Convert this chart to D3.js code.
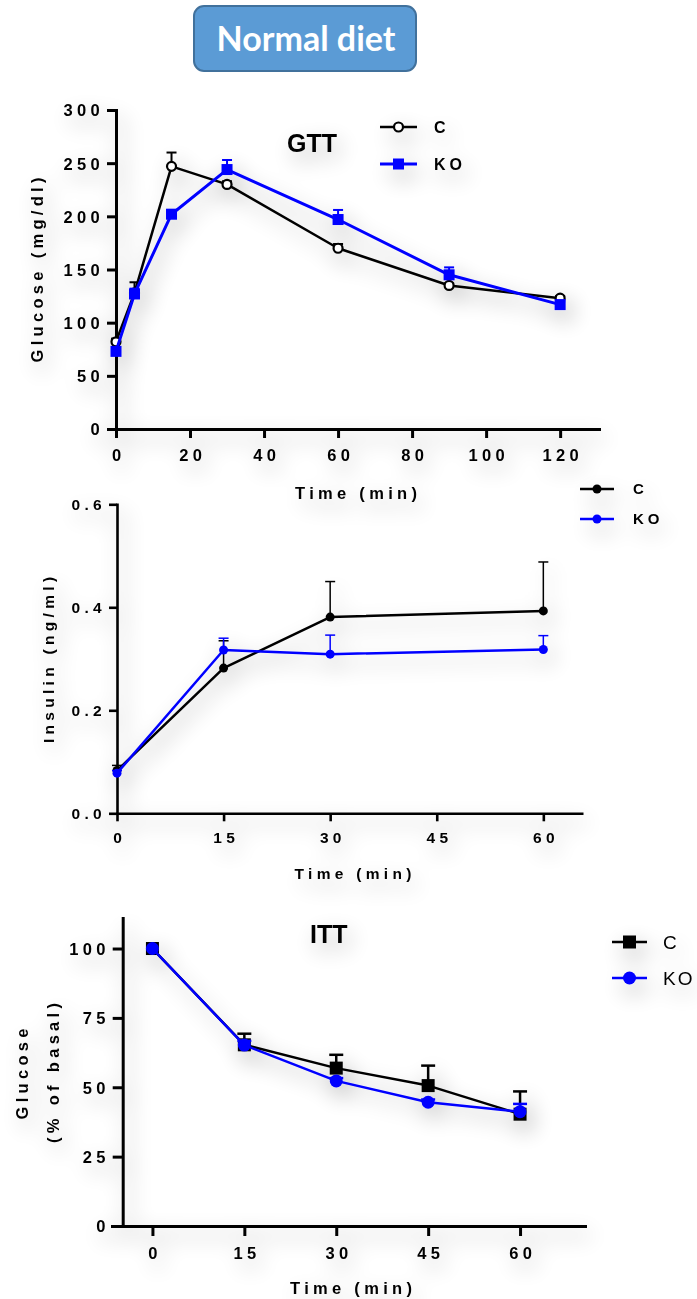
<!DOCTYPE html>
<html>
<head>
<meta charset="utf-8">
<script src="https://cdn.jsdelivr.net/npm/d3@7"></script>
<style>
  body { margin: 0; background: #fff; }
  svg { display: block; }
  .tick text, .lbl { font-family: "Liberation Sans", Arial, sans-serif; font-weight: bold; }
</style>
</head>
<body>
<svg width="697" height="1299"></svg>
<script>
// GTT - glucose (mg/dl)
const gttTimes = [0, 5, 15, 30, 60, 90, 120];
const gttC = [82, 128, 247, 230, 170, 135, 123];
const gttCErr = [3, 10, 13, 3, 4, 2, 2];
const gttKO = [73, 127, 202, 244, 197, 145, 117];
const gttKOErr = [3, 5, 4, 9, 9, 7, 3];
const gttXTicks = [0, 20, 40, 60, 80, 100, 120];
const gttYTicks = [0, 50, 100, 150, 200, 250, 300];

// insulin (ng/ml)
const insTimes = [0, 15, 30, 60];
const insC = [0.083, 0.282, 0.381, 0.393];
const insCErr = [0.01, 0.053, 0.069, 0.095];
const insKO = [0.078, 0.317, 0.309, 0.318];
const insKOErr = [0.005, 0.023, 0.037, 0.027];
const insXTicks = [0, 15, 30, 45, 60];
const insYTicks = [0, 0.2, 0.4, 0.6];

// ITT - glucose (% of basal)
const ittTimes = [0, 15, 30, 45, 60];
const ittC = [100, 65.3, 56.9, 50.6, 40.3];
const ittCErr = [0, 4, 4.8, 7.2, 8.2];
const ittKO = [100, 65.2, 52.3, 44.6, 41.2];
const ittKOErr = [0, 1.5, 1, 1, 2.8];
const ittXTicks = [0, 15, 30, 45, 60];
const ittYTicks = [0, 25, 50, 75, 100];

const seriesNames = ["C", "KO"];

let svg = d3.select("svg");

//soft grey shadow like the original slide
let defs = svg.append("defs");
let f = defs.append("filter").attr("id", "shadow")
  .attr("x", "-30%").attr("y", "-30%").attr("width", "160%").attr("height", "160%");
f.append("feGaussianBlur").attr("in", "SourceAlpha").attr("stdDeviation", 11).attr("result", "b");
f.append("feOffset").attr("in", "b").attr("dx", 5).attr("dy", 9).attr("result", "o");
f.append("feComponentTransfer").attr("in", "o").attr("result", "s")
  .append("feFuncA").attr("type", "linear").attr("slope", 0.32);
let m = f.append("feMerge");
m.append("feMergeNode").attr("in", "s");
m.append("feMergeNode").attr("in", "SourceGraphic");

//title box
svg.append("rect")
  .attr("x", 194).attr("y", 6).attr("width", 222).attr("height", 65).attr("rx", 10)
  .attr("fill", "#5B9BD5").attr("stroke", "#41719C").attr("stroke-width", 2);
svg.append("text")
  .attr("x", 306).attr("y", 51).attr("text-anchor", "middle")
  .attr("font-family", "Lato, 'Open Sans', sans-serif").attr("font-weight", "bold")
  .attr("font-size", 34).attr("fill", "#fff")
  .text("Normal diet");

function marker(g, shape, x, y, size, color) {
  if (shape == "square") {
    g.append("rect")
      .attr("x", x - size / 2).attr("y", y - size / 2)
      .attr("width", size).attr("height", size)
      .attr("fill", color);
  } else if (shape == "open") {
    g.append("circle").attr("cx", x).attr("cy", y).attr("r", size)
      .attr("fill", "#fff").attr("stroke", color).attr("stroke-width", 2.2);
  } else {
    g.append("circle").attr("cx", x).attr("cy", y).attr("r", size).attr("fill", color);
  }
}

function drawPanel(p) {
  let g = svg.append("g").attr("filter", "url(#shadow)");

  // axes
  let ax = g.append("g")
    .attr("transform", "translate(0," + p.y.range()[0] + ")")
    .call(d3.axisBottom(p.x).tickValues(p.xTicks).tickSize(p.tick).tickSizeOuter(0).tickPadding(p.xPad));
  let ay = g.append("g")
    .attr("transform", "translate(" + p.yAxisAt + ",0)")
    .call(d3.axisLeft(p.y).tickValues(p.yTicks).tickSize(p.tick).tickSizeOuter(0).tickPadding(3)
      .tickFormat(p.yFormat));
  [ax, ay].forEach(function(a) {
    a.select(".domain").attr("stroke-width", p.axisW).attr("stroke-linecap", "square");
    a.selectAll(".tick line").attr("stroke-width", p.axisW);
    a.selectAll(".tick text")
      .attr("font-size", p.fs).attr("fill", "#000")
      .attr("letter-spacing", p.ls);
  });
  ax.selectAll(".tick text").attr("dx", p.ls / 2);
  ay.selectAll(".tick text").attr("dy", "0.36em");

  // axis titles
  g.append("text").attr("class", "lbl")
    .attr("x", p.xLabel[0]).attr("y", p.xLabel[1]).attr("text-anchor", "middle")
    .attr("font-size", p.fs).attr("letter-spacing", p.ls).attr("dx", p.ls / 2)
    .text("Time (min)");
  p.yLabels.forEach(function(l) {
    g.append("text").attr("class", "lbl")
      .attr("transform", "translate(" + l[0] + "," + l[1] + ") rotate(-90)")
      .attr("text-anchor", "middle").attr("dy", "0.36em").attr("dx", p.ls / 2)
      .attr("font-size", p.fs).attr("letter-spacing", p.ls)
      .text(l[2]);
  });

  if (p.title) {
    g.append("text").attr("class", "lbl")
      .attr("x", p.title[0]).attr("y", p.title[1])
      .attr("font-size", 25).text(p.title[2]);
  }

  // series
  p.series.forEach(function(s) {
    let pts = p.times.map(function(t, i) { return [p.x(t), p.y(s.values[i])]; });
    g.append("path")
      .attr("d", d3.line()(pts))
      .attr("fill", "none").attr("stroke", s.color).attr("stroke-width", s.lineW)
      .attr("stroke-linejoin", "round");
    p.times.forEach(function(t, i) {
      if (!s.err[i]) return;
      let x = p.x(t), y0 = p.y(s.values[i]), y1 = p.y(s.values[i] + s.err[i]);
      g.append("line").attr("x1", x).attr("x2", x).attr("y1", y0).attr("y2", y1)
        .attr("stroke", s.color).attr("stroke-width", p.errW);
      g.append("line").attr("x1", x - p.cap / 2).attr("x2", x + p.cap / 2).attr("y1", y1).attr("y2", y1)
        .attr("stroke", s.color).attr("stroke-width", p.errW);
    });
    pts.forEach(function(d) { marker(g, s.shape, d[0], d[1], s.size, s.color); });
  });

  // legend
  p.series.forEach(function(s, i) {
    let ly = p.legend.y + i * p.legend.gap;
    g.append("line")
      .attr("x1", p.legend.x).attr("x2", p.legend.x + p.legend.w)
      .attr("y1", ly).attr("y2", ly)
      .attr("stroke", s.color).attr("stroke-width", s.lineW);
    marker(g, s.shape, p.legend.x + p.legend.w / 2, ly, s.size, s.color);
    g.append("text")
      .attr("x", p.legend.tx).attr("y", ly).attr("dy", "0.36em")
      .attr("font-family", "'Liberation Sans', Arial, sans-serif")
      .attr("font-weight", p.legend.bold ? "bold" : "normal")
      .attr("font-size", p.legend.fs).attr("letter-spacing", p.legend.ls)
      .text(s.name);
  });
}

//GTT
drawPanel({
  x: d3.scaleLinear().domain([0, 130.5]).range([116, 599]),
  y: d3.scaleLinear().domain([0, 300]).range([429, 110]),
  yAxisAt: 116, xTicks: gttXTicks, yTicks: gttYTicks, yFormat: d3.format("d"),
  tick: 9, xPad: 11, axisW: 3, fs: 16.5, ls: 4.3,
  xLabel: [356, 499], yLabels: [[37, 270, "Glucose (mg/dl)"]],
  title: [287, 152, "GTT"],
  times: gttTimes, errW: 2, cap: 10,
  series: [
    { name: seriesNames[0], values: gttC, err: gttCErr, color: "#000", shape: "open", size: 4.5, lineW: 2.5 },
    { name: seriesNames[1], values: gttKO, err: gttKOErr, color: "#0000FF", shape: "square", size: 11, lineW: 3 }
  ],
  legend: { x: 380, w: 37, y: 127, gap: 37, tx: 434, fs: 16, ls: 4, bold: true }
});

//Insulin
drawPanel({
  x: d3.scaleLinear().domain([0, 65.4]).range([117, 581.7]),
  y: d3.scaleLinear().domain([0, 0.6]).range([813.3, 504.3]),
  yAxisAt: 117, xTicks: insXTicks, yTicks: insYTicks, yFormat: d3.format(".1f"),
  tick: 8, xPad: 11, axisW: 2.6, fs: 15.5, ls: 4.3,
  xLabel: [353, 879], yLabels: [[48, 660, "Insulin (ng/ml)"]],
  times: insTimes, errW: 1.5, cap: 10,
  series: [
    { name: seriesNames[0], values: insC, err: insCErr, color: "#000", shape: "dot", size: 4.5, lineW: 2.5 },
    { name: seriesNames[1], values: insKO, err: insKOErr, color: "#0000FF", shape: "dot", size: 4.5, lineW: 2.5 }
  ],
  legend: { x: 580, w: 34, y: 489, gap: 30, tx: 633, fs: 15, ls: 4, bold: true }
});

//ITT
drawPanel({
  x: d3.scaleLinear().domain([-6.6, 70.6]).range([112, 585]),
  y: d3.scaleLinear().domain([0, 111]).range([1226, 918]),
  yAxisAt: 122.7, xTicks: ittXTicks, yTicks: ittYTicks, yFormat: d3.format("d"),
  tick: 10, xPad: 11, axisW: 3, fs: 16.5, ls: 4.3,
  xLabel: [351, 1294], yLabels: [[22, 1074, "Glucose"], [53, 1073, "(% of basal)"]],
  title: [310, 943, "ITT"],
  times: ittTimes, errW: 2.5, cap: 14,
  series: [
    { name: seriesNames[0], values: ittC, err: ittCErr, color: "#000", shape: "square", size: 13, lineW: 2.5 },
    { name: seriesNames[1], values: ittKO, err: ittKOErr, color: "#0000FF", shape: "dot", size: 6.5, lineW: 2.5 }
  ],
  legend: { x: 612, w: 35, y: 942, gap: 36, tx: 663, fs: 19, ls: 2, bold: false }
});
</script>
</body>
</html>
